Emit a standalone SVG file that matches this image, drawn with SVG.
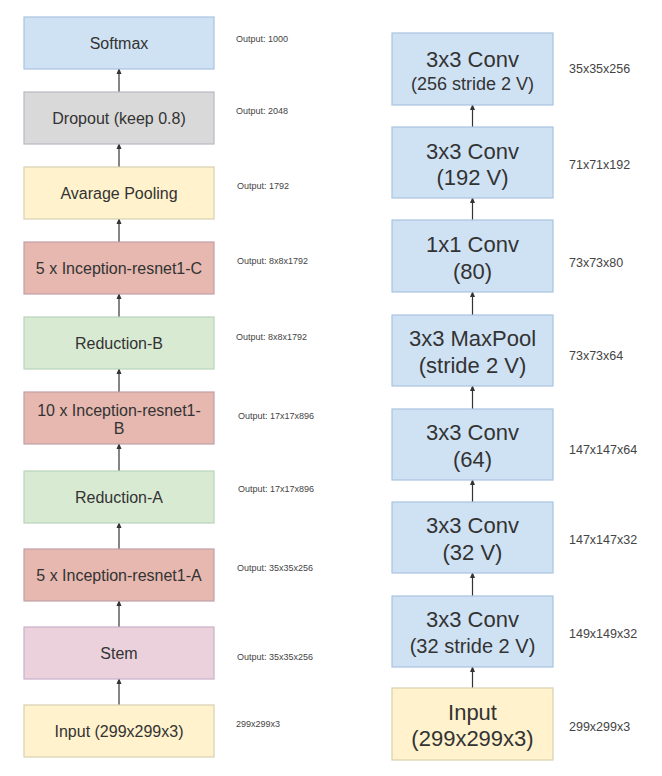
<svg xmlns="http://www.w3.org/2000/svg" width="662" height="776" viewBox="0 0 662 776">
<style>
.n{stroke-width:1.2}
.blue{fill:#cfe2f3;stroke:#a8c4e0}
.gray{fill:#d9d9d9;stroke:#b8b8c4}
.yel{fill:#fff2cc;stroke:#d8d0b0}
.red{fill:#e6b8af;stroke:#c0a0a8}
.grn{fill:#d9ead3;stroke:#b8d4bc}
.pink{fill:#ead1dc;stroke:#c8b0c8}
.t{font-family:"Liberation Sans",Arial,sans-serif;fill:#333;text-anchor:middle}
.lt{font-size:16px}
.rt{font-size:22px}
.ls{font-family:"Liberation Sans",Arial,sans-serif;fill:#444;font-size:9px}
.rs{font-family:"Liberation Sans",Arial,sans-serif;fill:#444;font-size:12.5px}
.c{stroke:#333;stroke-width:1.2;fill:none;marker-end:url(#ah)}
</style>
<defs>
<marker id="ah" markerWidth="6" markerHeight="6" refX="5" refY="3" orient="auto" markerUnits="userSpaceOnUse">
<path d="M0,0.5 L6,3 L0,5.5 Z" fill="#333"/>
</marker>
</defs>
<rect width="662" height="776" fill="#fff"/>
<g id="connectors">
<line class="c" x1="119" y1="705" x2="119" y2="679"/>
<line class="c" x1="119" y1="627" x2="119" y2="601"/>
<line class="c" x1="119" y1="549" x2="119" y2="523"/>
<line class="c" x1="119" y1="471" x2="119" y2="444"/>
<line class="c" x1="119" y1="392" x2="119" y2="369"/>
<line class="c" x1="119" y1="317" x2="119" y2="294"/>
<line class="c" x1="119" y1="242" x2="119" y2="219"/>
<line class="c" x1="119" y1="167" x2="119" y2="144"/>
<line class="c" x1="119" y1="92" x2="119" y2="69"/>
<line class="c" x1="472.5" y1="688" x2="472.5" y2="667"/>
<line class="c" x1="472.5" y1="596" x2="472.5" y2="573"/>
<line class="c" x1="472.5" y1="502" x2="472.5" y2="480"/>
<line class="c" x1="472.5" y1="409" x2="472.5" y2="386"/>
<line class="c" x1="472.5" y1="315" x2="472.5" y2="292"/>
<line class="c" x1="472.5" y1="220" x2="472.5" y2="198"/>
<line class="c" x1="472.5" y1="127" x2="472.5" y2="105"/>
</g>
<g id="softmax"><rect class="n blue" x="24" y="17" width="190" height="52"/><text class="t lt" x="119" y="48.7">Softmax</text></g>
<g id="dropout"><rect class="n gray" x="24" y="92" width="190" height="52"/><text class="t lt" x="119" y="123.7">Dropout (keep 0.8)</text></g>
<g id="avgpool"><rect class="n yel" x="24" y="167" width="190" height="52"/><text class="t lt" x="119" y="198.7">Avarage Pooling</text></g>
<g id="incC"><rect class="n red" x="24" y="242" width="190" height="52"/><text class="t lt" x="119" y="273.7">5 x Inception-resnet1-C</text></g>
<g id="redB"><rect class="n grn" x="24" y="317" width="190" height="52"/><text class="t lt" x="119" y="348.7">Reduction-B</text></g>
<g id="incB"><rect class="n red" x="24" y="392" width="190" height="52"/><text class="t lt" x="119" y="415.7">10 x Inception-resnet1-</text><text class="t lt" x="119" y="433.7">B</text></g>
<g id="redA"><rect class="n grn" x="24" y="471" width="190" height="52"/><text class="t lt" x="119" y="502.7">Reduction-A</text></g>
<g id="incA"><rect class="n red" x="24" y="549" width="190" height="52"/><text class="t lt" x="119" y="580.7">5 x Inception-resnet1-A</text></g>
<g id="stem"><rect class="n pink" x="24" y="627" width="190" height="52"/><text class="t lt" x="119" y="658.7">Stem</text></g>
<g id="input1"><rect class="n yel" x="24" y="705" width="190" height="52"/><text class="t lt" x="119" y="736.7">Input (299x299x3)</text></g>
<g id="left-labels">
<text class="ls" x="236" y="42">Output: 1000</text>
<text class="ls" x="236" y="114">Output: 2048</text>
<text class="ls" x="237" y="189">Output: 1792</text>
<text class="ls" x="237" y="264">Output: 8x8x1792</text>
<text class="ls" x="236" y="340">Output: 8x8x1792</text>
<text class="ls" x="238" y="419">Output: 17x17x896</text>
<text class="ls" x="238" y="492">Output: 17x17x896</text>
<text class="ls" x="237" y="571">Output: 35x35x256</text>
<text class="ls" x="237" y="660">Output: 35x35x256</text>
<text class="ls" x="236" y="727">299x299x3</text>
</g>
<g id="conv256"><rect class="n blue" x="392" y="33" width="161" height="72"/><text class="t rt" x="472.5" y="66.7">3x3 Conv</text><text class="t" style="font-size:18px" x="472.5" y="89.5">(256 stride 2 V)</text></g>
<g id="conv192"><rect class="n blue" x="392" y="127" width="161" height="71"/><text class="t rt" x="472.5" y="158.7">3x3 Conv</text><text class="t rt" x="472.5" y="184.7">(192 V)</text></g>
<g id="conv80"><rect class="n blue" x="392" y="220" width="161" height="72"/><text class="t rt" x="472.5" y="252.2">1x1 Conv</text><text class="t rt" x="472.5" y="278.7">(80)</text></g>
<g id="maxpool"><rect class="n blue" x="392" y="315" width="161" height="71"/><text class="t rt" x="472.5" y="345.7">3x3 MaxPool</text><text class="t rt" x="472.5" y="372.7">(stride 2 V)</text></g>
<g id="conv64"><rect class="n blue" x="392" y="409" width="161" height="71"/><text class="t rt" x="472.5" y="439.7">3x3 Conv</text><text class="t rt" x="472.5" y="466.7">(64)</text></g>
<g id="conv32"><rect class="n blue" x="392" y="502" width="161" height="71"/><text class="t rt" x="472.5" y="532.7">3x3 Conv</text><text class="t rt" x="472.5" y="559.7">(32 V)</text></g>
<g id="conv32s"><rect class="n blue" x="392" y="596" width="161" height="71"/><text class="t rt" x="472.5" y="626.7">3x3 Conv</text><text class="t" style="font-size:20px" x="472.5" y="652.5">(32 stride 2 V)</text></g>
<g id="input2"><rect class="n yel" x="392" y="688" width="161" height="72"/><text class="t rt" x="472.5" y="719.7">Input</text><text class="t rt" x="472.5" y="745.7">(299x299x3)</text></g>
<g id="right-labels">
<text class="rs" x="569" y="72.5">35x35x256</text>
<text class="rs" x="569" y="168.5">71x71x192</text>
<text class="rs" x="569" y="266.5">73x73x80</text>
<text class="rs" x="569" y="359.5">73x73x64</text>
<text class="rs" x="569" y="453.5">147x147x64</text>
<text class="rs" x="569" y="543.5">147x147x32</text>
<text class="rs" x="569" y="637.5">149x149x32</text>
<text class="rs" x="569" y="730.5">299x299x3</text>
</g>
</svg>
